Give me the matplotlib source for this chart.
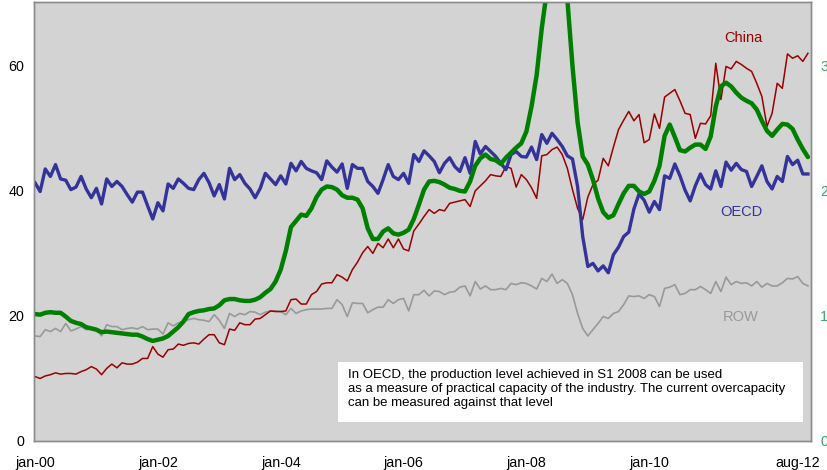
import matplotlib
matplotlib.use("Agg")
import matplotlib.pyplot as plt
from matplotlib.patches import Rectangle
import matplotlib.transforms as mtransforms

plt.rcParams['font.family'] = ['Liberation Sans', 'DejaVu Sans']

# Monthly series, jan-2000 .. aug-2012 (152 months)
months = list(range(152))

oecd = [41.3, 39.9, 43.5, 42.3, 44.2, 41.9, 41.7, 40.2, 40.6, 42.3, 40.3, 38.9, 40.4, 37.9, 41.9, 40.7,
        41.5, 40.7, 39.4, 38.2, 39.8, 39.8, 37.6, 35.5, 38.1, 36.8, 41.1, 40.4, 41.9, 41.2, 40.4, 40.2,
        41.8, 42.8, 41.3, 39.2, 41.0, 38.7, 43.6, 41.8, 42.6, 41.2, 40.3, 38.9, 40.4, 42.8, 41.9, 41.0,
        42.4, 41.1, 44.4, 43.2, 44.7, 43.6, 43.2, 42.9, 41.8, 44.8, 43.8, 43.0, 44.3, 40.4, 44.2, 43.6,
        43.6, 41.5, 40.7, 39.6, 41.8, 44.2, 42.3, 41.8, 42.8, 41.2, 45.8, 44.7, 46.4, 45.6, 44.7, 42.9,
        44.4, 45.3, 43.9, 43.1, 45.3, 42.8, 47.9, 45.9, 47.1, 46.3, 45.5, 44.4, 43.4, 45.8, 46.3, 45.5,
        45.4, 47.0, 45.0, 49.0, 47.6, 49.2, 48.2, 47.1, 45.6, 45.1, 40.7, 32.7, 27.9, 28.4, 27.2, 28.0,
        26.9, 29.8, 31.0, 32.7, 33.4, 37.1, 39.5, 38.5, 36.6, 38.3, 37.0, 42.4, 42.0, 44.3, 42.4, 40.1,
        38.4, 40.8, 42.7, 41.0, 40.3, 43.2, 40.7, 44.6, 43.3, 44.4, 43.4, 43.1, 40.7, 42.3, 44.0, 41.5,
        40.3, 42.3, 41.5, 45.5, 44.2, 44.9, 42.7, 42.7]

china = [10.3, 10.0, 10.4, 10.6, 10.9, 10.7, 10.8, 10.8, 10.7, 11.1, 11.4, 11.9, 11.5, 10.6, 11.6, 12.3,
         11.7, 12.5, 12.3, 12.3, 12.6, 13.2, 13.2, 15.1, 13.9, 13.4, 14.6, 14.7, 15.5, 15.3, 15.6, 15.7,
         15.5, 16.3, 17.0, 17.0, 15.7, 15.4, 17.9, 17.7, 18.9, 18.6, 18.6, 19.5, 19.6, 20.2, 20.8, 20.7,
         20.7, 20.8, 22.6, 22.7, 21.9, 21.9, 23.4, 23.9, 25.1, 25.3, 25.3, 26.6, 26.2, 25.6, 27.4, 28.6,
         30.1, 31.1, 30.0, 31.6, 30.9, 32.3, 30.9, 32.3, 30.7, 30.4, 33.6, 34.7, 35.9, 37.0, 36.4, 37.0,
         36.8, 38.0, 38.2, 38.4, 38.6, 37.5, 40.0, 40.8, 41.6, 42.6, 42.4, 42.3, 43.9, 43.6, 40.6, 42.6,
         41.8, 40.5, 38.8, 45.6, 45.8, 46.6, 47.0, 45.8, 43.6, 40.2, 37.2, 35.4, 39.0, 41.0, 41.7, 45.2,
         44.0, 47.0, 49.8, 51.3, 52.7, 51.2, 52.2, 47.7, 48.2, 52.3, 50.0, 55.0, 55.6, 56.2, 54.4, 52.4,
         52.2, 48.4, 50.8, 50.7, 52.0, 60.4, 54.6, 59.9, 59.5, 60.7, 60.2, 59.6, 59.1, 57.2, 55.1, 50.3,
         52.4, 57.2, 56.4, 61.9, 61.2, 61.6, 60.7, 62.0]

row = [16.8, 16.7, 17.8, 17.5, 18.0, 17.5, 18.8, 17.6, 17.9, 18.3, 17.8, 17.9, 17.8, 16.8, 18.6, 18.3,
       18.3, 17.8, 18.0, 18.1, 17.9, 18.3, 17.8, 17.9, 17.9, 17.1, 18.9, 18.4, 18.9, 19.1, 19.4, 19.6,
       19.4, 19.3, 19.1, 20.2, 19.3, 18.0, 20.4, 19.9, 20.4, 20.2, 20.7, 20.6, 20.2, 20.6, 20.8, 20.8,
       20.7, 20.2, 21.2, 20.4, 20.8, 21.0, 21.1, 21.1, 21.1, 21.2, 21.2, 22.6, 21.8, 19.9, 22.1, 22.0,
       22.0, 20.5, 21.0, 21.4, 21.4, 22.6, 22.0, 22.6, 22.8, 20.8, 23.4, 23.4, 24.1, 23.2, 24.0, 23.9,
       23.4, 23.8, 23.9, 24.6, 24.8, 23.2, 25.5, 24.3, 24.8, 24.2, 24.2, 24.4, 24.2, 25.2, 25.0, 25.3,
       25.2, 24.8, 24.3, 26.0, 25.5, 26.7, 25.2, 25.8, 25.2, 23.4, 20.4, 18.0, 16.8, 17.8, 18.8, 19.9,
       19.6, 20.4, 20.7, 21.8, 23.2, 23.1, 23.2, 22.8, 23.4, 23.1, 21.5, 24.4, 24.6, 25.0, 23.4, 23.6,
       24.2, 24.2, 24.7, 24.2, 23.6, 25.5, 23.9, 26.2, 25.0, 25.5, 25.2, 25.3, 24.8, 25.5, 24.6, 25.2,
       24.8, 24.8, 25.3, 26.0, 25.9, 26.3, 25.2, 24.8]

# green series on the right-hand axis
green_right = [10.15, 10.1, 10.25, 10.3, 10.25, 10.25, 9.95, 9.6, 9.45, 9.35, 9.1, 9.0, 8.9, 8.7, 8.75, 8.7,
               8.65, 8.6, 8.55, 8.5, 8.5, 8.35, 8.15, 8.0, 8.1, 8.2, 8.4, 8.75, 9.1, 9.55, 10.15, 10.3,
               10.4, 10.45, 10.55, 10.6, 10.85, 11.25, 11.35, 11.35, 11.25, 11.2, 11.2, 11.3, 11.5, 11.85, 12.15, 12.75,
               13.7, 15.2, 17.1, 17.6, 18.1, 18.0, 18.6, 19.5, 20.1, 20.35, 20.3, 20.1, 19.65, 19.45, 19.45, 19.3,
               18.6, 17.0, 16.15, 16.15, 16.75, 17.0, 16.6, 16.5, 16.65, 16.9, 17.75, 18.9, 20.1, 20.75, 20.8, 20.7,
               20.5, 20.25, 20.15, 20.0, 19.95, 20.75, 22.0, 22.6, 22.9, 22.55, 22.45, 22.15, 22.65, 23.05, 23.45, 23.8,
               24.75, 26.75, 29.25, 33.0, 36.0, 39.0, 40.0, 38.5, 35.3, 30.0, 25.5, 22.75, 22.1, 20.9, 19.4, 18.3,
               17.85, 18.05, 18.95, 19.8, 20.4, 20.4, 19.95, 19.75, 19.95, 20.8, 22.0, 24.4, 25.3, 24.3, 23.25, 23.15,
               23.45, 23.7, 23.7, 23.35, 24.35, 26.75, 28.35, 28.65, 28.35, 27.85, 27.45, 27.2, 27.0, 26.5, 25.6, 24.8,
               24.4, 24.9, 25.35, 25.3, 24.95, 24.1, 23.35, 22.7]

tick_pos = [0, 24, 48, 72, 96, 120, 151]
tick_labels = ['jan-00', 'jan-02', 'jan-04', 'jan-06', 'jan-08', 'jan-10', 'aug-12']
left_ticks = [0, 20, 40, 60]
right_ticks = [0, 10, 20, 30]
right_tick_labels = ['0', '10', '20', '30']

note = ("In OECD, the production level achieved in S1 2008 can be used\n"
        "as a measure of practical capacity of the industry. The current overcapacity\n"
        "can be measured against that level")

fig = plt.figure(figsize=(8.27, 4.70), dpi=100)
ax = fig.add_axes([34 / 827, 29 / 470, 777 / 827, 439 / 470])
ax2 = ax.twinx()

ax.set_facecolor('#D3D3D3')
ax.plot(months, row, color='#999999', lw=1.2, zorder=2)
ax.plot(months, china, color='#990000', lw=1.1, zorder=3)
ax.plot(months, oecd, color='#333399', lw=2.4, zorder=4)
ax2.plot(months, green_right, color='#008000', lw=3.2, solid_capstyle='round')

ax.set_xlim(-0.2, 151.6)
ax.set_ylim(0, 70.2)
ax2.set_ylim(0, 35.1)

ax.set_xticks(tick_pos)
ax.set_xticklabels(tick_labels)
ax.set_yticks(left_ticks)
ax2.set_yticks(right_ticks)
ax2.set_yticklabels(right_tick_labels)

ax.tick_params(axis='x', length=0, pad=11, labelsize=10.3, colors='black')
ax.tick_params(axis='y', length=0, pad=7, labelsize=10.3, colors='black')
ax2.tick_params(axis='y', length=0, pad=6.5, labelsize=10.3, colors='#3CA36B')

# nudge last x label so it stays inside the figure
lbls = ax.get_xticklabels()
lbls[-1].set_horizontalalignment('right')
lbls[-1].set_transform(lbls[-1].get_transform() + mtransforms.ScaledTranslation(12 / 100, 0, fig.dpi_scale_trans))

for a in (ax, ax2):
    for s in a.spines.values():
        s.set_color('#8C8C8C')
        s.set_linewidth(1.0)

ax.text(138.3, 64.5, 'China', color='#990000', fontsize=10.5, ha='center', va='center')
ax.text(137.9, 36.6, 'OECD', color='#333399', fontsize=10.5, ha='center', va='center')
ax.text(137.9, 19.8, 'ROW', color='#999999', fontsize=10.5, ha='center', va='center')

ax2.add_patch(Rectangle((0.391, 0.0433), 0.5987, 0.1367, transform=ax2.transAxes,
                        facecolor='white', edgecolor='none', zorder=5))
ax2.text(0.404, 0.163, note, transform=ax2.transAxes, fontsize=9.5, va='top', ha='left',
         linespacing=1.2, zorder=6, color='black')

fig.savefig('out.png', dpi=100)
